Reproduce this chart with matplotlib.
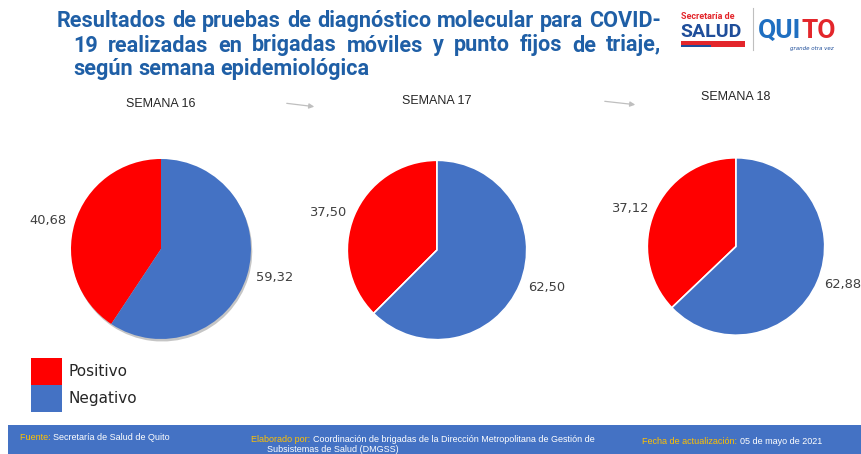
import matplotlib
matplotlib.use("Agg")
import matplotlib.pyplot as plt
from matplotlib.patches import Rectangle, FancyArrowPatch

W, H = 861, 454

# datos
semanas = ["SEMANA 16", "SEMANA 17", "SEMANA 18"]
categorias = ["Positivo", "Negativo"]
positivo = [40.68, 37.50, 37.12]
negativo = [59.32, 62.50, 62.88]
colores = ["#FF0000", "#4472C4"]

titulo = ["Resultados de pruebas de diagnóstico molecular para COVID-",
          "19 realizadas en brigadas móviles y punto fijos de triaje,",
          "según semana epidemiológica"]

AZUL_TIT = "#1F5FA6"
DORADO = "#FFC000"

fig = plt.figure(figsize=(W / 100, H / 100), dpi=100)
renderer = fig.canvas.get_renderer()


def fx(x):
    return x / W


def fy(y):
    return 1 - y / H


def ancho(t):
    return t.get_window_extent(renderer).width


# --- titulo (justificado) ---
tit_kw = dict(fontsize=15, fontweight="bold", color=AZUL_TIT, family="Roboto", va="baseline")
prueba = fig.text(0, 0, titulo[0], **tit_kw)
fs = 15 * 604 / ancho(prueba)
prueba.remove()
tit_kw["fontsize"] = fs


def linea(texto, x0, x1, y, justificar):
    palabras = texto.split(" ")
    ts = [fig.text(0, fy(y), p, **tit_kw) for p in palabras]
    anchos = [ancho(t) for t in ts]
    if justificar:
        hueco = (x1 - x0 - sum(anchos)) / (len(palabras) - 1)
    else:
        esp = fig.text(0, 0, "a a", **tit_kw)
        sin = fig.text(0, 0, "aa", **tit_kw)
        hueco = ancho(esp) - ancho(sin)
        esp.remove()
        sin.remove()
    x = x0
    for t, a in zip(ts, anchos):
        t.set_x(fx(x))
        x += a + hueco


linea(titulo[0], 57, 661, 27, True)
linea(titulo[1], 73, 661, 51.5, True)
linea(titulo[2], 73, 661, 75, False)

# --- logo (texto) ---
fig.text(fx(681), fy(19), "Secretaría de", fontsize=6.5, fontweight="bold", color="#E3262B", family="Roboto")
fig.text(fx(680), fy(37), "SALUD", fontsize=14, fontweight="bold", color="#1F4E9A", family="Roboto")
fig.patches.append(Rectangle((fx(681), fy(47)), 64 / W, 6 / H, transform=fig.transFigure,
                             facecolor="#E3262B", edgecolor="none"))
fig.patches.append(Rectangle((fx(681), fy(47)), 30 / W, 2 / H, transform=fig.transFigure,
                             facecolor="#1F4E9A", edgecolor="none"))
fig.add_artist(plt.Line2D([fx(753), fx(753)], [fy(8), fy(50)], color="#BFBFBF", lw=0.8))
q = fig.text(fx(758), fy(38), "QUI", fontsize=19, fontweight="bold", color="#1F6FC1", family="Roboto")
fig.text(fx(758) + ancho(q) / W, fy(38), "TO", fontsize=19, fontweight="bold", color="#E3262B", family="Roboto")
fig.text(fx(790), fy(50), "grande otra vez", fontsize=4, style="italic", color="#1F4E9A")

# --- flechas ---
for (x0, y0, x1, y1) in [(284, 103, 317, 107), (602, 101, 638, 105)]:
    fig.add_artist(FancyArrowPatch((fx(x0), fy(y0)), (fx(x1), fy(y1)), transform=fig.transFigure,
                                   arrowstyle="-|>,head_length=3,head_width=1.5", color="#BFBFBF", lw=0.9))

# --- pies ---
pies = [(161, 249, 90), (437, 250, 89.7), (736, 246.5, 88.7)]
pads = [29.5, 33, 34]
dist = [1.1, 1.1, 1.08]
M = 1.12
cuñas = None
for i, (cx, cy, r) in enumerate(pies):
    half = r * M
    ax = fig.add_axes([fx(cx - half), fy(cy + half), 2 * half / W, 2 * half / H])
    vals = [positivo[i], negativo[i]]
    etiquetas = ["{:.2f}".format(v).replace(".", ",") for v in vals]
    if i == 0:
        wp = dict(edgecolor="none")
        sombra = dict(ox=0.01, oy=-0.02, facecolor="0.55", edgecolor="none", alpha=0.5)
    else:
        wp = dict(edgecolor="white", linewidth=1.2)
        sombra = False
    w, t = ax.pie(vals, labels=etiquetas, colors=colores, startangle=90, labeldistance=dist[i],
                  wedgeprops=wp, shadow=sombra,
                  textprops=dict(fontsize=9.4, color="#404040", family="DejaVu Sans"))
    ax.set_xlim(-M, M)
    ax.set_ylim(-M, M)
    ax.set_title(semanas[i], pad=pads[i], fontsize=9, color="#262626", family="Liberation Sans")
    if cuñas is None:
        cuñas = w

# --- leyenda ---
fig.legend(cuñas, categorias, loc="upper left", bbox_to_anchor=(fx(31), fy(358)),
           frameon=False, borderpad=0, borderaxespad=0, handlelength=2.03, handleheight=2.34,
           labelspacing=0, handletextpad=0.4, prop=dict(size=11, family="DejaVu Sans"),
           labelcolor="#262626")

# --- pie de pagina ---
fig.patches.append(Rectangle((fx(8), 0), (W - 8) / W, 29 / H, transform=fig.transFigure,
                             facecolor="#4472C4", edgecolor="none"))

pie_kw = dict(fontsize=6.45, family="Liberation Sans", va="center")


def tramos(x, y, partes):
    for txt, col in partes:
        t = fig.text(fx(x), fy(y), txt, color=col, **pie_kw)
        x += ancho(t)


tramos(20, 438, [("Fuente: ", DORADO), ("Secretaría de Salud de Quito", "white")])
tramos(251, 440, [("Elaborado por: ", DORADO),
                  ("Coordinación de brigadas de la Dirección Metropolitana de Gestión de", "white")])
tramos(267, 449.5, [("Subsistemas de Salud (DMGSS)", "white")])
tramos(642, 441, [("Fecha de actualización: ", DORADO), ("05 de mayo de 2021", "white")])

fig.savefig("out.png", dpi=100)
